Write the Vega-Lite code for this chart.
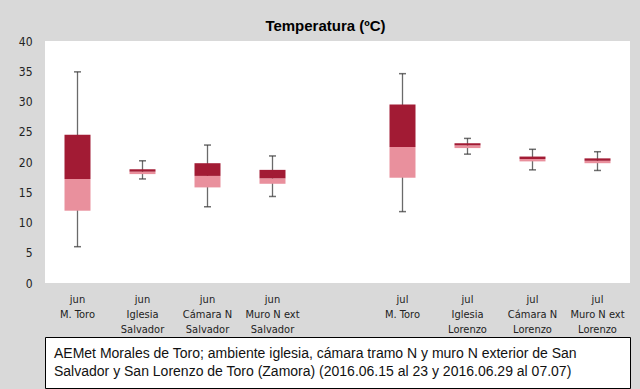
{
  "$schema": "https://vega.github.io/schema/vega-lite/v6.json",
  "background": "#d9d9d9",
  "padding": {"left": 18, "top": 19, "right": 10, "bottom": 0},
  "spacing": 2,
  "config": {
    "font": "Liberation Sans",
    "view": {"stroke": null},
    "axisY": {"title": null, "labelOverlap": false, "grid": false, "domain": false, "ticks": false, "tickSize": 0, "labelPadding": 13, "labelFont": "DejaVu Sans Condensed, Liberation Sans", "labelFontSize": 12, "labelColor": "#222"}
  },
  "vconcat": [
    {
      "width": 585,
      "height": 242,
      "view": {"fill": "white", "stroke": null},
      "title": {"text": "Temperatura (ºC)", "fontSize": 15, "fontWeight": "bold", "font": "Liberation Sans", "anchor": "middle", "offset": 1, "dx": -12, "color": "black"},
      "data": {"values": [
        {"cat": "jun|M. Toro", "min": 6.0, "q1": 11.95, "med": 17.2, "q3": 24.5, "max": 34.9},
        {"cat": "jun|Iglesia|Salvador", "min": 17.2, "q1": 18.0, "med": 18.4, "q3": 18.8, "max": 20.2},
        {"cat": "jun|Cámara N|Salvador", "min": 12.6, "q1": 15.8, "med": 17.7, "q3": 19.8, "max": 22.8},
        {"cat": "jun|Muro N ext|Salvador", "min": 14.3, "q1": 16.4, "med": 17.3, "q3": 18.7, "max": 21.0},
        {"cat": "jul|M. Toro", "min": 11.8, "q1": 17.4, "med": 22.5, "q3": 29.5, "max": 34.6},
        {"cat": "jul|Iglesia|Lorenzo", "min": 21.3, "q1": 22.3, "med": 22.75, "q3": 23.1, "max": 23.9},
        {"cat": "jul|Cámara N|Lorenzo", "min": 18.7, "q1": 20.1, "med": 20.5, "q3": 20.9, "max": 22.1},
        {"cat": "jul|Muro N ext|Lorenzo", "min": 18.6, "q1": 19.8, "med": 20.2, "q3": 20.6, "max": 21.7}
      ]},
      "encoding": {
        "x": {
          "field": "cat", "type": "nominal",
          "scale": {"domain": ["jun|M. Toro", "jun|Iglesia|Salvador", "jun|Cámara N|Salvador", "jun|Muro N ext|Salvador", " ", "jul|M. Toro", "jul|Iglesia|Lorenzo", "jul|Cámara N|Lorenzo", "jul|Muro N ext|Lorenzo"], "paddingInner": 0, "paddingOuter": 0},
          "axis": {"title": null, "labelAngle": 0, "labelExpr": "split(datum.value, '|')", "labelFont": "DejaVu Sans Condensed, Liberation Sans", "labelFontSize": 11, "labelColor": "#222", "labelLineHeight": 15, "labelPadding": 10, "ticks": false, "tickSize": 0, "domain": false, "labelBaseline": "top"}
        }
      },
      "layer": [
        {
          "mark": {"type": "rule", "color": "#6a6a6a", "strokeWidth": 1.3},
          "encoding": {
            "y": {"field": "min", "type": "quantitative", "scale": {"domain": [0, 40], "nice": false}, "axis": {"values": [0, 5, 10, 15, 20, 25, 30, 35, 40]}},
            "y2": {"field": "max"}
          }
        },
        {
          "mark": {"type": "bar", "color": "#e9909d", "size": 26},
          "encoding": {"y": {"field": "q1", "type": "quantitative", "axis": {"values": [0, 5, 10, 15, 20, 25, 30, 35, 40]}}, "y2": {"field": "med"}}
        },
        {
          "mark": {"type": "bar", "color": "#a21b34", "size": 26},
          "encoding": {"y": {"field": "med", "type": "quantitative", "axis": {"values": [0, 5, 10, 15, 20, 25, 30, 35, 40]}}, "y2": {"field": "q3"}}
        },
        {
          "mark": {"type": "tick", "color": "#333", "size": 7, "thickness": 1.5},
          "encoding": {"y": {"field": "min", "type": "quantitative", "axis": {"values": [0, 5, 10, 15, 20, 25, 30, 35, 40]}}}
        },
        {
          "mark": {"type": "tick", "color": "#333", "size": 7, "thickness": 1.5},
          "encoding": {"y": {"field": "max", "type": "quantitative", "axis": {"values": [0, 5, 10, 15, 20, 25, 30, 35, 40]}}}
        }
      ]
    },
    {
      "width": 585,
      "height": 51,
      "view": {"fill": "white", "stroke": "#000", "strokeWidth": 1},
      "data": {"values": [
        {"x": 0, "line": 1, "t": "AEMet Morales de Toro; ambiente iglesia, cámara tramo N y muro N exterior de San"},
        {"x": 0, "line": 2, "t": "Salvador y San Lorenzo de Toro (Zamora) (2016.06.15 al 23 y 2016.06.29 al 07.07)"}
      ]},
      "mark": {"type": "text", "align": "left", "baseline": "middle", "dx": 9, "fontSize": 14, "color": "#111", "font": "Liberation Sans"},
      "encoding": {
        "x": {"field": "x", "type": "quantitative", "scale": {"domain": [0, 1]}, "axis": null},
        "y": {"field": "line", "type": "quantitative", "scale": {"domain": [0, 2.95], "reverse": true, "nice": false, "zero": false}, "axis": null},
        "text": {"field": "t"}
      }
    }
  ]
}
